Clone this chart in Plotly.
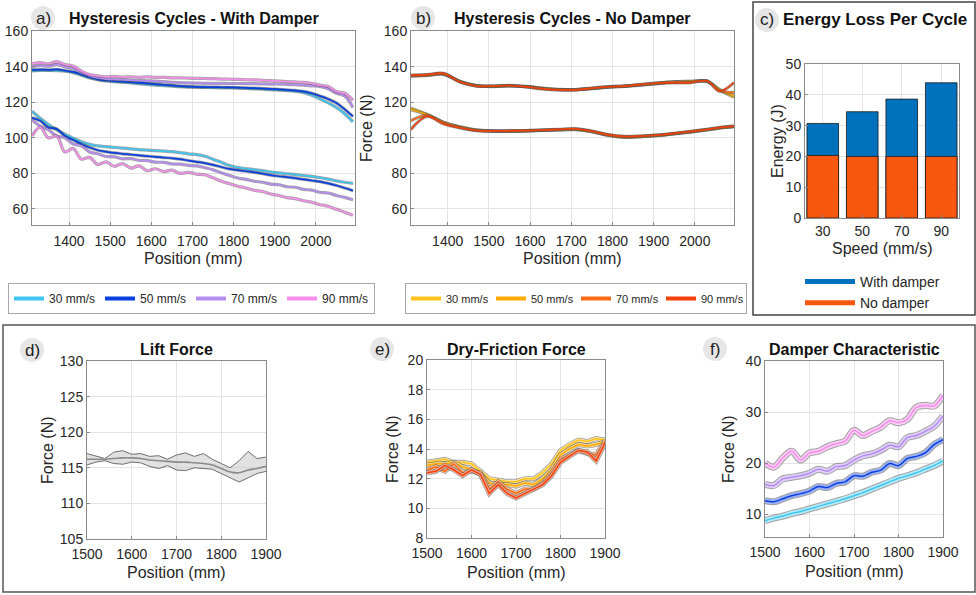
import plotly.graph_objects as go

W, H = 976, 595
FONT = "Liberation Sans, Arial, sans-serif"
TXT = "#262626"

# ---------------- data ----------------
SPEEDS = ["30 mm/s", "50 mm/s", "70 mm/s", "90 mm/s"]

# panel a: hysteresis with damper
XA = [1310, 1330, 1350, 1370, 1390, 1410, 1430, 1450, 1470, 1490, 1510, 1530, 1550, 1570,
      1590, 1610, 1630, 1650, 1670, 1690, 1710, 1730, 1750, 1770, 1790, 1810, 1830, 1850,
      1870, 1890, 1910, 1930, 1950, 1970, 1990, 2010, 2030, 2050, 2070, 2090]
A_UP_30 = [137.6, 137.8, 137.8, 137.7, 137.4, 136.6, 135.2, 133.6, 132.6, 131.9, 131.5, 131.2, 130.8, 130.4,
           130.0, 129.6, 129.3, 129.0, 128.7, 128.5, 128.4, 128.3, 128.2, 128.1, 128.0, 127.9, 127.7, 127.5,
           127.3, 127.1, 126.8, 126.5, 126.1, 125.4, 123.9, 121.8, 119.6, 117.0, 113.5, 109.0]
A_UP_50 = [138.2, 138.3, 138.2, 138.4, 137.8, 137.0, 135.6, 134.0, 132.8, 132.2, 131.8, 131.5, 131.2, 130.9,
           130.6, 130.2, 129.8, 129.4, 129.0, 128.8, 128.6, 128.5, 128.5, 128.4, 128.3, 128.2, 128.0, 127.9,
           127.7, 127.5, 127.2, 126.9, 126.6, 126.1, 125.0, 123.5, 121.8, 119.5, 116.0, 112.0]
A_UP_70 = [139.8, 140.5, 140.2, 141.2, 139.8, 138.8, 136.6, 134.8, 133.6, 133.0, 132.8, 132.6, 132.4, 132.2,
           132.0, 131.8, 131.5, 131.2, 131.0, 130.8, 130.7, 130.6, 130.6, 130.6, 130.5, 130.5, 130.4, 130.4,
           130.3, 130.2, 130.2, 130.0, 129.8, 129.6, 129.2, 128.8, 127.5, 125.0, 123.5, 117.0]
A_UP_90 = [141.5, 142.2, 141.6, 142.8, 141.2, 140.4, 137.5, 135.5, 134.8, 134.2, 134.5, 134.1, 134.3, 134.0,
           134.2, 133.9, 134.0, 133.7, 133.7, 133.5, 133.4, 133.3, 133.2, 133.0, 132.9, 132.8, 132.6, 132.5,
           132.3, 132.1, 131.9, 131.6, 131.4, 131.1, 130.5, 129.6, 128.8, 126.0, 125.0, 121.0]
A_LO_30 = [114.9, 111.0, 107.5, 104.5, 102.0, 99.8, 97.8, 96.3, 95.5, 95.0, 94.6, 94.2, 93.8, 93.4,
           93.1, 92.8, 92.5, 92.2, 91.7, 91.0, 90.5, 89.6, 88.0, 86.2, 84.4, 83.3, 82.7, 82.1,
           81.6, 80.8, 80.3, 79.8, 79.3, 78.8, 78.3, 77.6, 76.8, 75.8, 75.0, 74.4]
A_LO_50 = [111.2, 109.5, 105.8, 105.0, 101.0, 98.8, 96.5, 94.5, 93.0, 92.2, 91.5, 91.0, 90.6, 90.1,
           89.7, 89.3, 88.9, 88.5, 88.0, 87.2, 86.5, 85.8, 84.8, 83.6, 82.5, 81.8, 81.2, 80.6,
           79.9, 79.0, 78.4, 77.9, 77.3, 76.6, 76.0, 75.4, 74.4, 73.2, 71.8, 70.3]
A_LO_70 = [110.0, 106.5, 104.5, 101.0, 100.0, 96.5, 95.5, 92.0, 91.0, 89.5, 89.3, 88.2, 88.3, 87.3,
           87.2, 86.3, 86.2, 85.3, 85.2, 84.5, 84.2, 83.2, 82.0, 80.3, 78.8, 77.4, 76.6, 75.6,
           75.0, 74.0, 73.6, 72.5, 72.2, 71.0, 70.6, 69.4, 69.0, 67.6, 66.5, 65.2]
A_LO_90 = [101.0, 106.0, 100.0, 101.0, 92.0, 94.0, 88.0, 89.0, 85.0, 86.5, 84.0, 85.5, 83.0, 84.2,
           81.5, 82.6, 81.0, 81.8, 80.0, 80.6, 79.6, 79.2, 77.5, 75.6, 74.2, 72.8, 71.8, 70.5,
           69.8, 68.4, 67.6, 66.4, 65.8, 64.6, 63.8, 62.4, 61.5, 59.8, 58.2, 56.5]

# panel b: hysteresis without damper
XB = [1310, 1350, 1390, 1430, 1470, 1510, 1550, 1590, 1630, 1670, 1710, 1750, 1790, 1830,
      1870, 1910, 1950, 1990, 2030, 2060, 2095]
B_UP_30 = [134.6, 135.0, 135.6, 131.8, 129.4, 128.9, 129.1, 128.9, 127.9, 127.2, 127.0, 127.6, 128.4, 128.9,
           129.6, 130.4, 131.2, 131.6, 131.5, 126.8, 122.8]
B_UP_50 = [134.8, 135.2, 135.8, 131.6, 129.3, 128.8, 129.2, 128.8, 127.8, 127.1, 127.1, 127.7, 128.5, 129.0,
           129.8, 130.6, 131.4, 131.8, 131.7, 127.2, 123.6]
B_UP_70 = [135.0, 135.3, 136.0, 131.4, 129.2, 129.0, 129.3, 128.7, 127.6, 127.0, 127.0, 127.8, 128.6, 129.1,
           129.9, 130.7, 131.5, 131.3, 131.9, 126.5, 125.5]
B_UP_90 = [135.2, 135.5, 136.2, 131.3, 129.0, 129.1, 129.4, 128.6, 127.5, 126.9, 126.9, 127.9, 128.7, 129.0,
           130.0, 130.8, 130.8, 131.0, 132.0, 126.2, 131.0]
B_LO_30 = [116.8, 113.2, 108.6, 106.2, 104.4, 103.8, 103.6, 103.8, 104.1, 104.4, 104.6, 103.6, 101.4, 100.2,
           100.6, 101.2, 102.2, 103.2, 104.4, 105.4, 106.2]
B_LO_50 = [115.8, 113.0, 108.8, 106.0, 104.3, 103.7, 103.7, 103.9, 104.2, 104.5, 104.7, 103.4, 101.3, 100.3,
           100.7, 101.3, 102.3, 103.3, 104.5, 105.5, 106.3]
B_LO_70 = [109.5, 112.6, 108.4, 105.8, 104.0, 103.8, 103.8, 104.0, 104.3, 104.6, 104.9, 103.5, 101.6, 100.6,
           100.9, 101.5, 102.4, 103.5, 104.7, 105.7, 106.4]
B_LO_90 = [104.5, 112.0, 107.8, 105.6, 104.1, 103.9, 104.0, 104.1, 104.4, 104.8, 105.1, 103.8, 101.8, 100.8,
           101.0, 101.6, 102.5, 103.6, 104.8, 105.8, 106.5]

# panel c: energy loss per cycle
C_SPEED = [30, 50, 70, 90]
C_WITH_DAMPER = [30.7, 34.5, 38.6, 43.9]
C_NO_DAMPER = [20.3, 20.0, 20.0, 20.0]

# panels d, e, f share the position grid
XD = [1500, 1520, 1540, 1560, 1580, 1600, 1620, 1640, 1660, 1680, 1700,
      1720, 1740, 1760, 1780, 1800, 1820, 1840, 1860, 1880, 1900]
D_MEAN = [116.2, 116.2, 116.2, 116.3, 116.4, 116.4, 116.3, 116.1, 116.0, 115.9, 115.8,
          115.8, 115.7, 115.6, 115.4, 114.9, 114.4, 114.3, 114.7, 114.9, 115.2]
D_UPPER = [117.0, 116.6, 116.3, 117.2, 117.4, 116.9, 117.0, 116.6, 116.7, 116.2, 116.8,
           117.1, 116.6, 117.0, 116.2, 115.6, 115.0, 116.0, 117.3, 116.3, 116.5]
D_LOWER = [115.4, 115.8, 116.0, 115.6, 115.5, 115.8, 115.7, 115.2, 114.9, 115.3, 114.7,
           114.6, 115.0, 114.9, 114.8, 114.2, 113.6, 113.0, 113.6, 114.2, 114.5]

E_30 = [13.1, 13.2, 13.3, 13.1, 13.1, 13.0, 12.5, 12.0, 11.9, 11.8, 11.8,
        12.0, 12.0, 12.4, 13.0, 13.9, 14.3, 14.6, 14.5, 14.7, 14.6]
E_50 = [12.9, 13.0, 13.0, 13.1, 12.8, 12.6, 12.3, 11.7, 11.6, 11.6, 11.5,
        11.7, 11.6, 12.0, 12.6, 13.6, 14.0, 14.3, 14.2, 14.3, 14.5]
E_70 = [12.6, 12.8, 12.5, 13.0, 12.4, 12.5, 12.4, 11.3, 11.8, 11.3, 11.0,
        11.3, 11.3, 11.7, 12.4, 13.3, 13.6, 13.9, 13.7, 13.6, 14.5]
E_90 = [12.4, 12.5, 12.9, 12.6, 12.2, 12.6, 12.3, 11.0, 11.6, 11.0, 10.7,
        11.0, 11.3, 11.6, 12.2, 13.1, 13.5, 13.9, 13.8, 13.2, 14.4]

F_30 = [8.7, 9.2, 9.6, 10.1, 10.5, 11.0, 11.5, 12.0, 12.5, 13.0, 13.6,
        14.2, 14.9, 15.6, 16.3, 17.0, 17.5, 18.1, 18.8, 19.5, 20.4]
F_50 = [12.6, 12.4, 13.0, 13.6, 14.0, 14.5, 15.4, 15.2, 16.0, 16.3, 17.5,
        17.4, 18.2, 18.6, 19.9, 19.5, 20.9, 21.3, 22.0, 23.6, 24.6]
F_70 = [15.8, 15.6, 16.9, 17.2, 17.5, 18.0, 18.8, 18.4, 19.3, 19.5, 20.6,
        21.4, 21.8, 22.5, 23.5, 23.2, 25.0, 25.4, 26.2, 27.2, 29.2]
F_90 = [20.0, 19.2, 21.0, 22.3, 20.6, 22.0, 22.3, 23.2, 23.8, 24.3, 26.4,
        25.4, 26.2, 27.0, 28.3, 27.9, 28.6, 30.9, 31.3, 31.2, 33.3]

for arr in [A_UP_30, A_UP_50, A_UP_70, A_UP_90, A_LO_30, A_LO_50, A_LO_70, A_LO_90]:
    assert len(arr) == len(XA)
for arr in [B_UP_30, B_UP_50, B_UP_70, B_UP_90, B_LO_30, B_LO_50, B_LO_70, B_LO_90]:
    assert len(arr) == len(XB)
for arr in [D_MEAN, D_UPPER, D_LOWER, E_30, E_50, E_70, E_90, F_30, F_50, F_70, F_90]:
    assert len(arr) == len(XD)

# ---------------- styles ----------------
COL_A = ["#3EC6F0", "#0A3FE0", "#B58CF0", "#F48EEA"]
LIGHT_A = ["#B4EAFA", "#9DB2F4", "#E0CFFA", "#FACDF5"]
COL_B = ["#FFC21A", "#FFAA00", "#FF6A14", "#F2400A"]
LIGHT_B = ["#FFE69E", "#FFD88C", "#FFBE9A", "#F9AC92"]
BLUE_C = "#0072BD"
ORANGE_C = "#F8570F"
HALO = "rgba(70,70,70,0.5)"


def px(x):
    return x / W


def py(y):
    return 1 - y / H


fig = go.Figure()


def banded(xv, yv, xa, ya, color, light, halo_w, light_w, core_w, shape="spline"):
    fig.add_trace(go.Scatter(x=xv, y=yv, xaxis=xa, yaxis=ya, mode="lines", showlegend=False,
                             line=dict(color=HALO, width=halo_w, shape=shape), hoverinfo="skip"))
    if light_w:
        fig.add_trace(go.Scatter(x=xv, y=yv, xaxis=xa, yaxis=ya, mode="lines", showlegend=False,
                                 line=dict(color=light, width=light_w, shape=shape), hoverinfo="skip"))
    fig.add_trace(go.Scatter(x=xv, y=yv, xaxis=xa, yaxis=ya, mode="lines", showlegend=False,
                             line=dict(color=color, width=core_w, shape=shape)))


# panel a
for i, (up, lo) in enumerate([(A_UP_30, A_LO_30), (A_UP_50, A_LO_50), (A_UP_70, A_LO_70), (A_UP_90, A_LO_90)]):
    for arr in (up, lo):
        banded(XA, arr, "x", "y", COL_A[i], LIGHT_A[i], 3.2, 0, 1.7)

# panel b
for i, (up, lo) in enumerate([(B_UP_30, B_LO_30), (B_UP_50, B_LO_50), (B_UP_70, B_LO_70), (B_UP_90, B_LO_90)]):
    for arr in (up, lo):
        banded(XB, arr, "x2", "y2", COL_B[i], LIGHT_B[i], 3.2, 0, 1.6)

# panel c
fig.add_trace(go.Bar(x=C_SPEED, y=C_WITH_DAMPER, xaxis="x3", yaxis="y3", width=16, showlegend=False,
                     marker=dict(color=BLUE_C, line=dict(color="#1a1a1a", width=0.8))))
fig.add_trace(go.Bar(x=C_SPEED, y=C_NO_DAMPER, xaxis="x3", yaxis="y3", width=16, showlegend=False,
                     marker=dict(color=ORANGE_C, line=dict(color="#1a1a1a", width=0.8))))

# panel d
fig.add_trace(go.Scatter(x=XD, y=D_LOWER, xaxis="x4", yaxis="y4", mode="lines", showlegend=False,
                         line=dict(color="#6e6e6e", width=1)))
fig.add_trace(go.Scatter(x=XD, y=D_UPPER, xaxis="x4", yaxis="y4", mode="lines", showlegend=False,
                         fill="tonexty", fillcolor="rgba(200,200,200,0.55)",
                         line=dict(color="#6e6e6e", width=1)))
fig.add_trace(go.Scatter(x=XD, y=D_MEAN, xaxis="x4", yaxis="y4", mode="lines", showlegend=False,
                         line=dict(color="#8a8a8a", width=1.6, shape="spline")))

# panel e
for i, arr in enumerate([E_30, E_50, E_70, E_90]):
    banded(XD, arr, "x5", "y5", COL_B[i], LIGHT_B[i], 5, 3.4, 1.5, shape="linear")

# panel f
for i, arr in enumerate([F_30, F_50, F_70, F_90]):
    banded(XD, arr, "x6", "y6", COL_A[i], LIGHT_A[i], 7, 5, 1.5, shape="spline")

# legend entries (legend-only samples)
for i, name in enumerate(SPEEDS):
    fig.add_trace(go.Scatter(x=[None], y=[None], mode="lines", name=name, legend="legend",
                             line=dict(color=COL_A[i], width=4)))
for i, name in enumerate(SPEEDS):
    fig.add_trace(go.Scatter(x=[None], y=[None], mode="lines", name=name, legend="legend2",
                             line=dict(color=COL_B[i], width=4)))
fig.add_trace(go.Scatter(x=[None], y=[None], mode="lines", name="With damper", legend="legend3",
                         legendgroup="w", line=dict(color=BLUE_C, width=5)))
fig.add_trace(go.Scatter(x=[None], y=[None], mode="lines", name="No damper", legend="legend3",
                         legendgroup="n", line=dict(color=ORANGE_C, width=5)))


# ---------------- axes ----------------
def axis(d0, d1, rng, tickvals, anchor, vertical=False, standoff=0):
    if vertical:
        dom = [py(d1), py(d0)]
    else:
        dom = [px(d0), px(d1)]
    a = dict(domain=dom, range=rng, tickvals=tickvals, showline=True, mirror=True, automargin=False,
             linecolor="#8a8a8a", linewidth=1, showgrid=True, gridcolor="#E4E4E4", gridwidth=1,
             zeroline=False, ticks="inside", ticklen=3, tickcolor="#8a8a8a",
             tickfont=dict(size=14, color=TXT, family=FONT), anchor=anchor)
    if standoff:
        a["ticklabelstandoff"] = standoff
    return a


XT_A = [1400, 1500, 1600, 1700, 1800, 1900, 2000]
YT_A = [60, 80, 100, 120, 140, 160]
XT_D = [1500, 1600, 1700, 1800, 1900]

fig.update_layout(
    xaxis=axis(32, 355, [1310, 2095], XT_A, "y", standoff=3),
    yaxis=axis(31, 225, [51, 160], YT_A, "x", vertical=True),
    xaxis2=axis(411, 734, [1311, 2095], XT_A, "y2", standoff=3),
    yaxis2=axis(31, 225, [51, 160], YT_A, "x2", vertical=True),
    xaxis3=axis(805, 959, [21, 99], C_SPEED, "y3"),
    yaxis3=axis(64, 218, [0, 50], [0, 10, 20, 30, 40, 50], "x3", vertical=True),
    xaxis4=axis(87, 266, [1500, 1900], XT_D, "y4", standoff=2),
    yaxis4=axis(361, 539, [105, 130], [105, 110, 115, 120, 125, 130], "x4", vertical=True),
    xaxis5=axis(427, 605, [1500, 1900], XT_D, "y5", standoff=2),
    yaxis5=axis(360, 538, [8, 20], [8, 10, 12, 14, 16, 18, 20], "x5", vertical=True),
    xaxis6=axis(765, 943, [1500, 1900], XT_D, "y6", standoff=2),
    yaxis6=axis(361, 537, [5.5, 40], [10, 20, 30, 40], "x6", vertical=True),
)

fig.update_layout(
    width=W, height=H, margin=dict(l=0, r=0, t=0, b=0, autoexpand=False),
    paper_bgcolor="white", plot_bgcolor="white",
    font=dict(family=FONT, color=TXT),
    barmode="overlay",
    legend=dict(x=px(8), y=py(283), xanchor="left", yanchor="top", orientation="h",
                traceorder="normal", bordercolor="#A8A8A8", borderwidth=1, bgcolor="white",
                font=dict(size=12, color=TXT, family=FONT), itemwidth=30),
    legend2=dict(x=px(405), y=py(283), xanchor="left", yanchor="top", orientation="h",
                 traceorder="normal", bordercolor="#A8A8A8", borderwidth=1, bgcolor="white",
                 font=dict(size=11, color=TXT, family=FONT), itemwidth=30,
                 entrywidth=40, entrywidthmode="pixels"),
    legend3=dict(x=px(800), y=py(266), xanchor="left", yanchor="top", orientation="v",
                 traceorder="normal", bgcolor="rgba(0,0,0,0)", tracegroupgap=4, itemwidth=50,
                 font=dict(size=14, color=TXT, family=FONT)),
    showlegend=True,
)

# ---------------- titles, labels, frames ----------------
ann = []
shapes = []


def text(t, xc, yc, size=16, bold=False, angle=0, anchor="center", color=TXT):
    ann.append(dict(text=("<b>%s</b>" % t) if bold else t, x=px(xc), y=py(yc), xref="paper", yref="paper",
                    showarrow=False, xanchor=anchor, yanchor="middle", textangle=angle,
                    font=dict(size=size, color=color, family=FONT)))


text("Hysteresis Cycles - With Damper", 193.5, 18, bold=True, color="#111111")
text("Hysteresis Cycles - No Damper", 572.5, 18, bold=True, color="#111111")
text("Lift Force", 176.5, 349, bold=True, color="#111111")
text("Dry-Friction Force", 516, 349, bold=True, color="#111111")
text("Damper Characteristic", 854, 349, bold=True, color="#111111")
text("Energy Loss Per Cycle", 781, 20, size=17, bold=True, anchor="left", color="#111111")

# axis titles
text("Position (mm)", 193.5, 258)
text("Position (mm)", 572.5, 258)
text("Force (N)", 366, 128, angle=-90)
text("Speed (mm/s)", 882, 248)
text("Energy (J)", 777, 141, angle=-90)
text("Position (mm)", 176.5, 572)
text("Force (N)", 47, 450, angle=-90)
text("Position (mm)", 516, 572)
text("Force (N)", 392, 449, angle=-90)
text("Position (mm)", 854, 571)
text("Force (N)", 728, 449, angle=-90)

for lab, cx, cy in [("a)", 43, 18), ("b)", 423, 18), ("c)", 767, 20),
                    ("d)", 32, 350), ("e)", 382, 349), ("f)", 715, 349)]:
    r = 12
    shapes.append(dict(type="circle", xref="paper", yref="paper", x0=px(cx - r), x1=px(cx + r),
                       y0=py(cy + r), y1=py(cy - r), fillcolor="#E6E6E6", line=dict(width=0),
                       layer="below"))
    text(lab, cx, cy, size=17, color="#222222")

# panel frames
shapes.append(dict(type="rect", xref="paper", yref="paper", x0=px(753), x1=px(975), y0=py(315), y1=py(2),
                   line=dict(color="#444444", width=1.5), fillcolor="rgba(0,0,0,0)"))
shapes.append(dict(type="rect", xref="paper", yref="paper", x0=px(3), x1=px(975), y0=py(592), y1=py(325),
                   line=dict(color="#555555", width=1.5), fillcolor="rgba(0,0,0,0)"))

fig.update_layout(annotations=ann, shapes=shapes)

fig.write_html("out.html")
